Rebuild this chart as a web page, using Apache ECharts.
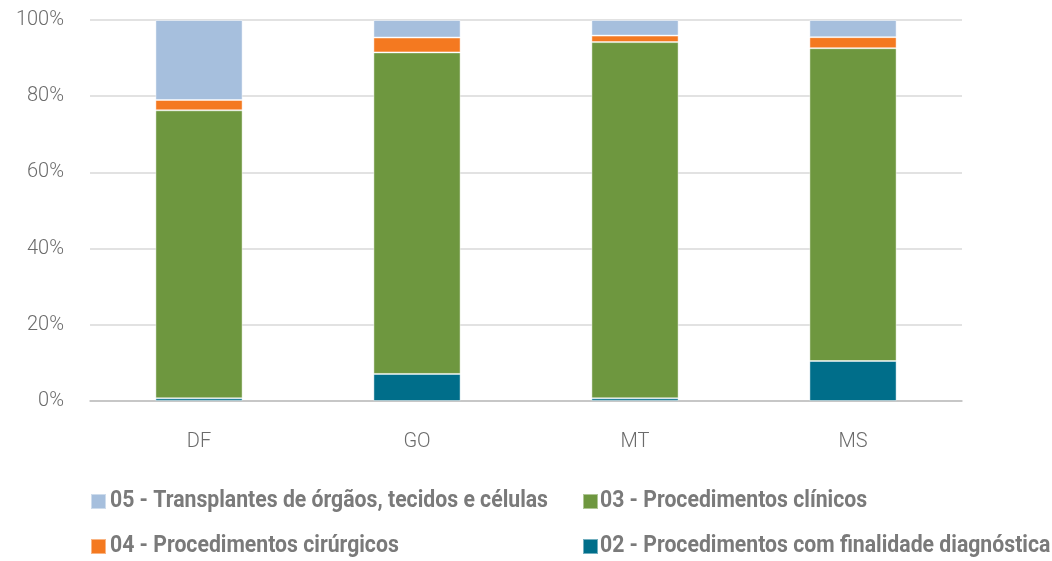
<!DOCTYPE html>
<html>
<head>
<meta charset="utf-8">
<script src="https://cdn.jsdelivr.net/npm/echarts@6/dist/echarts.min.js"></script>
<style>html,body{margin:0;padding:0;background:#fff}#chart{width:1052px;height:561px}</style>
</head>
<body>
<div id="chart"></div>
<script>
const categories = ['DF', 'GO', 'MT', 'MS'];
const seriesNames = [
  '02 - Procedimentos com finalidade diagnóstica',
  '03 - Procedimentos clínicos',
  '04 - Procedimentos cirúrgicos',
  '05 - Transplantes de órgãos, tecidos e células'
];
const diag = [0.7, 7.1, 0.7, 10.5];
const clin = [75.6, 84.4, 93.5, 82.1];
const cirur = [2.7, 3.9, 1.7, 2.9];
const transp = [21.0, 4.6, 4.1, 4.5];
const yTicks = [0, 20, 40, 60, 80, 100];

const colors = ['#006E8A', '#6E973F', '#F47920', '#A6BFDD'];
const values = [diag, clin, cirur, transp];

const legendFont = 'bold 23px Roboto';
const ctx = document.createElement('canvas').getContext('2d');
ctx.font = legendFont;
const textScale = 438 / ctx.measureText(seriesNames[3]).width;

const chart = echarts.init(document.getElementById('chart'), null, {renderer: 'canvas'});
function mkLegend(name, left, top) {
  return {
    data: [name], left: left, top: top, orient: 'horizontal',
    itemWidth: 15, itemHeight: 15, itemGap: 0, padding: 0, icon: 'rect',
    selectedMode: false, formatter: () => '', textStyle: {fontSize: 1}
  };
}
function mkText(name, x, y) {
  return {
    type: 'text', x: x, y: y, scaleX: textScale, silent: true,
    style: {text: name, font: legendFont, fill: '#7A7A7A', textVerticalAlign: 'middle', verticalAlign: 'middle', align: 'left'}
  };
}
chart.setOption({
  animation: false,
  grid: {left: 90, right: 90, top: 20, bottom: 160, containLabel: false},
  legend: [
    mkLegend(seriesNames[3], 90, 493),
    mkLegend(seriesNames[1], 582, 493),
    mkLegend(seriesNames[2], 90, 538),
    mkLegend(seriesNames[0], 582, 538)
  ],
  graphic: [
    mkText(seriesNames[3], 110, 501),
    mkText(seriesNames[1], 600, 501),
    mkText(seriesNames[2], 110, 546),
    mkText(seriesNames[0], 600, 546)
  ],
  xAxis: {
    type: 'category', data: categories,
    axisLine: {lineStyle: {color: '#BFBFBF', width: 1.5}},
    axisTick: {show: false},
    axisLabel: {color: '#6B6B6B', fontSize: 20, fontFamily: 'Roboto', fontWeight: 300, margin: 31}
  },
  yAxis: {
    type: 'value', min: 0, max: 100, interval: 20,
    axisLine: {show: false}, axisTick: {show: false},
    splitLine: {lineStyle: {color: '#D9D9D9', width: 1.5}},
    axisLabel: {color: '#6B6B6B', fontSize: 20, fontFamily: 'Roboto', fontWeight: 300, margin: 26,
      formatter: v => yTicks.includes(v) ? v + '%' : ''}
  },
  series: values.map((vals, i) => ({
    name: seriesNames[i], type: 'bar', stack: 'total', data: vals,
    barWidth: '40%',
    itemStyle: {color: colors[i], borderColor: 'rgba(255,255,255,0.45)', borderWidth: 1}
  }))
});
</script>
</body>
</html>
